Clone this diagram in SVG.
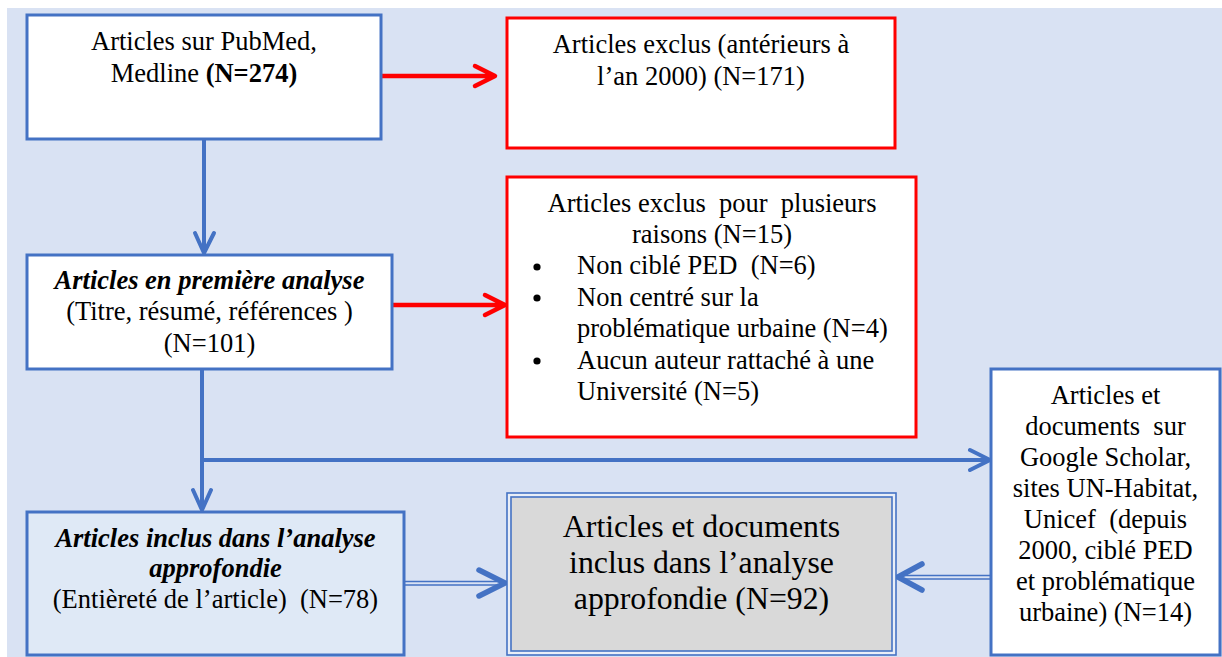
<svg xmlns="http://www.w3.org/2000/svg" width="1222" height="657" viewBox="0 0 1222 657">
<style>
text{font-family:"Liberation Serif","Times New Roman",serif;font-size:26.5px;fill:#000;white-space:pre}
.c{text-anchor:middle}
.bi{font-weight:bold;font-style:italic}
.big{font-size:31.8px}
.bx{fill:#fff;stroke:#4472C4;stroke-width:3}
.rx{fill:#fff;stroke:#FF0000;stroke-width:3}
.bl{stroke:#4472C4;stroke-width:4;fill:none;stroke-linecap:round;stroke-linejoin:round}
.rl{stroke:#FF0000;stroke-width:4.5;fill:none;stroke-linecap:round;stroke-linejoin:round}
.dl{stroke:#4472C4;stroke-width:1.6;fill:none}
.dh{stroke:#4472C4;stroke-width:5.5;fill:none;stroke-linecap:round;stroke-linejoin:round}
</style>
<rect x="0" y="0" width="1222" height="657" fill="#fff"/>
<rect x="7" y="8" width="1215" height="649" fill="#D9E2F3"/>

<g id="connectors">
  <path class="rl" d="M381 76H494M475 66L495 76L475 86"/>
  <path class="bl" d="M204 139V252M195 233L204 253L214 233"/>
  <path class="rl" d="M392 305H504M485 295L505 305L485 315"/>
  <path class="bl" d="M202 369V509M193 490L202 510L211 490"/>
  <path class="bl" d="M202 460H988M970 450L990 460L970 470"/>
  <path class="dl" d="M404 581.5H503M404 585H503"/>
  <path class="dh" d="M479 570L505 583L479 596"/>
  <path class="dl" d="M991 575.5H900M991 579H900"/>
  <path class="dh" d="M922 564L898 577L922 590"/>
</g>

<g id="n1">
  <rect class="bx" x="27" y="15" width="354" height="124"/>
  <text class="c" x="204" y="50">Articles sur PubMed,</text>
  <text class="c" x="204" y="82">Medline <tspan font-weight="bold">(N=274)</tspan></text>
</g>

<g id="n2">
  <rect class="rx" x="507" y="18" width="388" height="130"/>
  <text class="c" x="701" y="53">Articles exclus (antérieurs à</text>
  <text class="c" x="701" y="85">l’an 2000) (N=171)</text>
</g>

<g id="n3">
  <rect class="bx" x="27" y="255" width="365" height="114"/>
  <text class="c bi" x="209.5" y="289">Articles en première analyse</text>
  <text class="c" x="209.5" y="320">(Titre, résumé, références )</text>
  <text class="c" x="209.5" y="352">(N=101)</text>
</g>

<g id="n4">
  <rect class="rx" x="507" y="177" width="409" height="260"/>
  <text class="c" x="712" y="212">Articles exclus  pour  plusieurs</text>
  <text class="c" x="712" y="243">raisons (N=15)</text>
  <circle cx="537" cy="267" r="3.6"/>
  <circle cx="537" cy="298" r="3.6"/>
  <circle cx="537" cy="361" r="3.6"/>
  <text x="577" y="274">Non ciblé PED  (N=6)</text>
  <text x="577" y="306">Non centré sur la</text>
  <text x="577" y="337">problématique urbaine (N=4)</text>
  <text x="577" y="369">Aucun auteur rattaché à une</text>
  <text x="577" y="400">Université (N=5)</text>
</g>

<g id="n5">
  <rect class="bx" x="991" y="369" width="229" height="286"/>
  <text class="c" x="1105.5" y="404">Articles et</text>
  <text class="c" x="1105.5" y="435">documents  sur</text>
  <text class="c" x="1105.5" y="466">Google Scholar,</text>
  <text class="c" x="1105.5" y="497">sites UN-Habitat,</text>
  <text class="c" x="1105.5" y="528">Unicef  (depuis</text>
  <text class="c" x="1105.5" y="559">2000, ciblé PED</text>
  <text class="c" x="1105.5" y="590">et problématique</text>
  <text class="c" x="1105.5" y="621">urbaine) (N=14)</text>
</g>

<g id="n6">
  <rect x="27" y="512" width="377" height="143" fill="#DFE9F6" stroke="#4472C4" stroke-width="3"/>
  <text class="c bi" x="215.5" y="547">Articles inclus dans l’analyse</text>
  <text class="c bi" x="215.5" y="577">approfondie</text>
  <text class="c" x="215.5" y="608">(Entièreté de l’article)  (N=78)</text>
</g>

<g id="n7">
  <rect x="507" y="493" width="389" height="162" fill="#E9EEF7" stroke="#4472C4" stroke-width="1.6"/>
  <rect x="511" y="497" width="381" height="154" fill="#D9D9D9" stroke="#4472C4" stroke-width="1.6"/>
  <text class="c big" x="701.5" y="537">Articles et documents</text>
  <text class="c big" x="701.5" y="573">inclus dans l’analyse</text>
  <text class="c big" x="701.5" y="609">approfondie (N=92)</text>
</g>
</svg>
